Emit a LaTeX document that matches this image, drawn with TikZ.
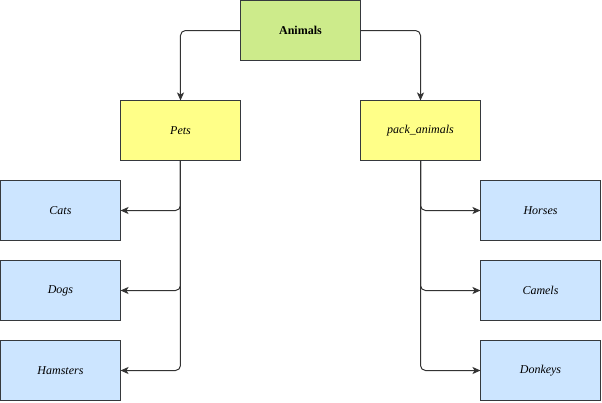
\documentclass[tikz,border=0pt]{standalone}
\usepackage{fontspec}
\setmainfont{Liberation Serif}
\usetikzlibrary{arrows.meta, positioning}
\definecolor{rootgreen}{HTML}{CDEB8B}
\definecolor{groupyellow}{HTML}{FFFF88}
\definecolor{leafblue}{HTML}{CCE5FF}
\definecolor{boxline}{HTML}{36393D}
\tikzstyle{tikzroot} = [rectangle, minimum width=120pt, minimum height=60pt, text centered, draw=boxline, fill=rootgreen, line width=1pt, font=\fontsize{12pt}{14pt}\selectfont\bfseries, inner sep=0pt, outer sep=0pt]
\tikzstyle{tikzgroup} = [tikzroot, fill=groupyellow, font=\fontsize{12pt}{14pt}\selectfont\itshape]
\tikzstyle{tikzleaf} = [tikzroot, fill=leafblue, font=\fontsize{12pt}{14pt}\selectfont\itshape]
\tikzstyle{tikzedge} = [-{Stealth[length=8pt,width=7pt,inset=2pt]}, draw=black!80, line width=1pt, rounded corners=5pt]

\begin{document}
\begin{tikzpicture}[node distance=20pt]
    \node (anim) [tikzroot] {Animals};
    \node (pets) [tikzgroup, below left=40pt and 0pt of anim] {Pets};
    \node (pack) [tikzgroup, below right=40pt and 0pt of anim] {pack\_animals};
    \node (cats) [tikzleaf, below left=20pt and 0pt of pets] {Cats};
    \node (dogs) [tikzleaf, below=of cats] {Dogs};
    \node (ham)  [tikzleaf, below=of dogs] {Hamsters};
    \node (hor)  [tikzleaf, below right=20pt and 0pt of pack] {Horses};
    \node (cam)  [tikzleaf, below=of hor] {Camels};
    \node (don)  [tikzleaf, below=of cam] {Donkeys};

    \useasboundingbox ([xshift=-0.5pt,yshift=0.5pt]cats.west |- anim.north) rectangle ([xshift=1.5pt,yshift=-1.5pt]hor.east |- ham.south);

    \draw [tikzedge] (anim) -| (pets);
    \draw [tikzedge] (anim) -| (pack);
    \draw [tikzedge] (pets) |- (cats);
    \draw [tikzedge] (pets) |- (dogs);
    \draw [tikzedge] (pets) |- (ham);
    \draw [tikzedge] (pack) |- (hor);
    \draw [tikzedge] (pack) |- (cam);
    \draw [tikzedge] (pack) |- (don);
\end{tikzpicture}
\end{document}
